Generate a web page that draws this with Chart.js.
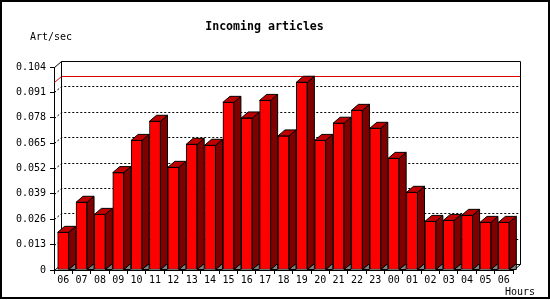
<!DOCTYPE html>
<html>
<head>
<meta charset="utf-8">
<script src="https://cdn.jsdelivr.net/npm/chart.js@4"></script>
<style>
  body { margin: 0; background: #fff; }
</style>
</head>
<body>
<canvas id="myChart" width="550" height="300"></canvas>
<script>
// hourly incoming rate, 06 -> 06 next day
var hours = ['06','07','08','09','10','11','12','13','14','15','16','17','18',
             '19','20','21','22','23','00','01','02','03','04','05','06'];
var artPerSec = [0.0193, 0.0347, 0.0285, 0.0499, 0.0664, 0.0762, 0.0526, 0.0644, 0.0639,
                 0.0859, 0.0779, 0.0869, 0.0687, 0.0962, 0.0664, 0.0752, 0.0818, 0.0726,
                 0.0572, 0.0398, 0.0249, 0.0254, 0.0280, 0.0244, 0.0244];
var yTicks = [0, 0.013, 0.026, 0.039, 0.052, 0.065, 0.078, 0.091, 0.104];

var FONT = 'DejaVu Sans Mono';
var DX = 7, DY = 6;   // 3d depth

function poly(ctx, pts, fill) {
    ctx.beginPath();
    ctx.moveTo(pts[0][0], pts[0][1]);
    for (var i = 1; i < pts.length; i++) ctx.lineTo(pts[i][0], pts[i][1]);
    ctx.closePath();
    ctx.fillStyle = fill;
    ctx.fill();
    ctx.stroke();
}

var box3d = {
    id: 'box3d',
    beforeDatasetsDraw: function(chart) {
        var ctx = chart.ctx, a = chart.chartArea, y = chart.scales.y;
        var L = a.left + 0.5, R = a.right + 0.5, T = a.top + 0.5, B = a.bottom + 0.5;
        ctx.save();
        ctx.lineWidth = 1;
        // dotted grid on back wall + side wall
        ctx.strokeStyle = '#000';
        ctx.setLineDash([2, 2]);
        yTicks.forEach(function(v) {
            if (v === 0 || v === yTicks[yTicks.length - 1]) return;
            var py = Math.round(y.getPixelForValue(v)) + 0.5;
            ctx.beginPath();
            ctx.moveTo(L, py);
            ctx.lineTo(L + DX, py - DY);
            ctx.lineTo(R + DX, py - DY);
            ctx.stroke();
        });
        ctx.setLineDash([]);
        // max line in red
        var mx = Math.max.apply(null, artPerSec);
        var my = Math.round(y.getPixelForValue(mx)) + 0.5;
        ctx.strokeStyle = '#e00000';
        ctx.beginPath();
        ctx.moveTo(L, my);
        ctx.lineTo(L + DX, my - DY);
        ctx.lineTo(R + DX, my - DY);
        ctx.stroke();
        // frame
        ctx.strokeStyle = '#000';
        ctx.beginPath();
        ctx.moveTo(L, T); ctx.lineTo(L + DX, T - DY);
        ctx.lineTo(R + DX, T - DY); ctx.lineTo(R + DX, B - DY); ctx.lineTo(R, B);
        ctx.moveTo(L + DX, T - DY); ctx.lineTo(L + DX, B - DY); ctx.lineTo(R + DX, B - DY);
        ctx.moveTo(L, B); ctx.lineTo(L + DX, B - DY);
        ctx.stroke();
        ctx.restore();
    },
    afterDatasetsDraw: function(chart) {
        var ctx = chart.ctx;
        ctx.save();
        ctx.lineWidth = 1;
        ctx.strokeStyle = '#000';
        chart.getDatasetMeta(0).data.forEach(function(bar) {
            var l = bar.x - bar.width / 2, r = bar.x + bar.width / 2;
            var t = bar.y, b = bar.base;
            poly(ctx, [[r, b], [r + DX, b - DY], [r + DX, b]], '#808080');
            poly(ctx, [[r, t], [r + DX, t - DY], [r + DX, b - DY], [r, b]], '#800000');
            poly(ctx, [[l, t], [l + DX, t - DY], [r + DX, t - DY], [r, t]], '#c00000');
        });
        ctx.restore();
    },
    afterDraw: function(chart) {
        var ctx = chart.ctx;
        ctx.save();
        ctx.fillStyle = '#000';
        ctx.font = '10px "' + FONT + '"';
        ctx.textBaseline = 'middle';
        ctx.textAlign = 'left';
        ctx.fillText('Art/sec', 30, 37);
        ctx.fillText('Hours', 505, 292);
        ctx.strokeStyle = '#000';
        ctx.lineWidth = 2;
        ctx.strokeRect(1, 1, 548, 297);
        ctx.restore();
    }
};

var ctx = document.getElementById('myChart').getContext('2d');
new Chart(ctx, {
    type: 'bar',
    data: {
        labels: hours,
        datasets: [{
            label: 'Art/sec',
            data: artPerSec,
            backgroundColor: '#ff0000',
            borderColor: '#000',
            borderWidth: 1,
            borderSkipped: false,
            barThickness: 11
        }]
    },
    options: {
        responsive: false,
        animation: false,
        layout: { padding: { left: 16, right: 37, top: 0, bottom: 14 } },
        plugins: {
            legend: { display: false },
            tooltip: { enabled: false },
            title: {
                display: true,
                text: 'Incoming articles',
                color: '#000',
                font: { family: FONT, size: 11.6, weight: 'bold' },
                padding: { top: 20, bottom: 33.1 }
            }
        },
        scales: {
            x: {
                offset: true,
                grid: { offset: true, drawOnChartArea: false, drawTicks: true, tickLength: 4, color: '#000' },
                border: { display: true, color: '#000', width: 1 },
                ticks: { color: '#000', padding: 0, maxRotation: 0, autoSkip: false,
                         font: { family: FONT, size: 10 } },
                afterFit: function(s) { s.height = 16; }
            },
            y: {
                min: 0,
                max: 0.104,
                grid: { drawOnChartArea: false, drawTicks: true, tickLength: 4, color: '#000' },
                border: { display: true, color: '#000', width: 1 },
                afterBuildTicks: function(s) {
                    s.ticks = yTicks.map(function(v) { return { value: v }; });
                },
                ticks: {
                    color: '#000',
                    padding: 4,
                    font: { family: FONT, size: 10 },
                    callback: function(v) { return v === 0 ? '0' : v.toFixed(3); }
                },
                afterFit: function(s) { s.width = 38; }
            }
        }
    },
    plugins: [box3d]
});
</script>
</body>
</html>
